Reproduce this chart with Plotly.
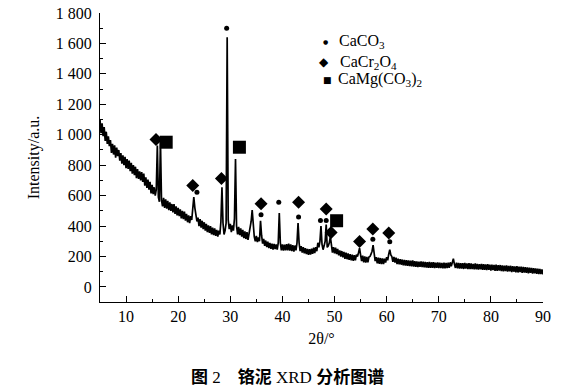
import plotly.graph_objects as go

# ---------------- data ----------------
intensity = [
    1100, 1010, 1075, 990, 1050, 960, 1020, 940, 990, 925,     # 5.0
    965, 880, 940, 870, 930, 850, 915, 860, 900, 830,          # 7.0
    880, 810, 865, 800, 855, 780, 840, 775, 830, 760,          # 9.0
    815, 745, 800, 735, 790, 715, 775, 710, 760, 700,          # 11.0
    755, 690, 745, 665, 720, 650, 705, 640, 690, 615,          # 13.0
    670, 610, 655, 600, 640, 930, 590, 560, 960, 570,          # 15.0
    530, 585, 520, 575, 515, 565, 505, 555, 500, 545,          # 17.0
    490, 545, 480, 530, 470, 520, 465, 510, 450, 500,          # 19.0
    445, 495, 435, 480, 425, 470, 420, 465, 440, 500,          # 21.0
    590, 520, 470, 430, 455, 400, 445, 390, 435, 380,          # 23.0
    425, 370, 415, 360, 405, 355, 400, 345, 390, 340,          # 25.0
    385, 335, 375, 330, 370, 345, 430, 655, 420, 345,          # 27.0
    370, 420, 1640, 440, 380, 415, 360, 405, 370, 450,         # 29.0
    840, 400, 345, 395, 340, 385, 330, 375, 320, 365,          # 31.0
    315, 360, 310, 355, 380, 430, 505, 400, 330, 300,          # 33.0
    335, 295, 325, 300, 435, 340, 285, 315, 270, 305,          # 35.0
    262, 298, 255, 290, 250, 285, 245, 282, 248, 280,          # 37.0
    245, 290, 485, 290, 240, 280, 238, 278, 240, 282,          # 39.0
    240, 285, 238, 280, 235, 275, 232, 272, 240, 290,          # 41.0
    420, 290, 235, 268, 225, 262, 220, 255, 215, 250,          # 43.0
    210, 248, 212, 252, 218, 258, 222, 262, 235, 290,          # 45.0
    260, 300, 400, 280, 245, 270, 300, 410, 260, 270,          # 47.0
    290, 330, 255, 225, 262, 220, 258, 215, 250, 208,          # 49.0
    240, 200, 236, 195, 230, 185, 225, 182, 220, 178,          # 51.0
    215, 175, 212, 172, 208, 175, 212, 200, 225, 255,          # 53.0
    210, 170, 205, 162, 200, 160, 198, 162, 196, 200,          # 55.0
    215, 235, 275, 215, 170, 195, 155, 192, 152, 190,          # 57.0
    150, 188, 150, 186, 160, 195, 175, 215, 245, 210,          # 59.0
    200, 165, 198, 160, 192, 150, 185, 148, 182, 146,          # 61.0
    180, 142, 178, 140, 176, 138, 175, 137, 172, 135,          # 63.0
    174, 134, 170, 132, 168, 130, 166, 132, 168, 130,          # 65.0
    166, 128, 165, 127, 163, 126, 164, 125, 162, 126,          # 67.0
    163, 124, 160, 125, 162, 123, 160, 124, 158, 122,          # 69.0
    160, 122, 158, 123, 160, 125, 162, 135, 165, 185,          # 71.0
    150, 125, 160, 122, 158, 120, 157, 121, 156, 118,          # 73.0
    158, 120, 155, 118, 157, 117, 154, 118, 152, 116,          # 75.0
    155, 115, 152, 114, 150, 116, 152, 113, 150, 112,          # 77.0
    148, 110, 150, 112, 146, 108, 147, 110, 145, 106,          # 79.0
    146, 105, 143, 107, 144, 104, 142, 102, 140, 104,          # 81.0
    141, 100, 138, 102, 139, 98, 137, 100, 135, 96,            # 83.0
    136, 95, 133, 97, 134, 93, 131, 94, 130, 92,               # 85.0
    128, 90, 126, 92, 125, 88, 124, 89, 122, 86,               # 87.0
    120, 85, 118, 84, 115, 82,                                 # 89.0
]
two_theta = [round(5.0 + 0.2 * i, 1) for i in range(len(intensity))]

# phase markers (2theta, intensity at marker)
caco3_x = [29.3, 23.6, 35.9, 39.3, 43.1, 47.3, 48.4, 57.35, 60.6]
caco3_y = [1699, 622, 475, 556, 459, 437, 437, 314, 297]
cacr2o4_x = [15.75, 22.8, 28.3, 35.9, 43.1, 48.4, 49.35, 54.8, 57.35, 60.4]
cacr2o4_y = [969, 666, 712, 547, 556, 512, 358, 299, 380, 354]
camg_x = [17.7, 31.75, 50.4]
camg_y = [951, 918, 435]

y_ticks = [0, 200, 400, 600, 800, 1000, 1200, 1400, 1600, 1800]
y_ticktext = ["0", "200", "400", "600", "800", "1 000", "1 200", "1 400", "1 600", "1 800"]
x_ticks = [10, 20, 30, 40, 50, 60, 70, 80, 90]

legend_labels = ["CaCO<sub>3</sub>", "CaCr<sub>2</sub>O<sub>4</sub>", "CaMg(CO<sub>3</sub>)<sub>2</sub>"]
caption = "<b>图</b> 2　<b>铬泥</b> XRD <b>分析图谱</b>"

# ---------------- figure ----------------
SERIF = "Liberation Serif"
fig = go.Figure()
fig.add_trace(go.Scatter(x=two_theta, y=intensity, mode="lines",
                         line=dict(color="black", width=1.7), showlegend=False,
                         hoverinfo="skip"))
fig.add_trace(go.Scatter(x=caco3_x, y=caco3_y, mode="markers",
                         marker=dict(symbol="circle", size=5, color="black"), showlegend=False))
fig.add_trace(go.Scatter(x=cacr2o4_x, y=cacr2o4_y, mode="markers",
                         marker=dict(symbol="diamond", size=10, color="black"), showlegend=False))
fig.add_trace(go.Scatter(x=camg_x, y=camg_y, mode="markers",
                         marker=dict(symbol="square", size=13, color="black"), showlegend=False))

# legend drawn as annotations
leg_sym = ["●", "◆", "■"]
leg_sym_size = [6, 12, 9]
leg_sym_x = [0.5087, 0.5065, 0.5132]
leg_txt_x = [0.5358, 0.538, 0.5335]
leg_y = [0.8997, 0.8304, 0.7682]
for s, ss, sx, tx, yy, lab in zip(leg_sym, leg_sym_size, leg_sym_x, leg_txt_x, leg_y, legend_labels):
    fig.add_annotation(x=sx, y=yy, xref="paper", yref="paper", text=s, showarrow=False,
                       font=dict(family="DejaVu Sans", size=ss, color="black"),
                       xanchor="center", yanchor="middle")
    fig.add_annotation(x=tx, y=yy, xref="paper", yref="paper", text=lab, showarrow=False,
                       font=dict(family=SERIF, size=16, color="black"),
                       xanchor="left", yanchor="middle")

fig.add_annotation(x=0.423, y=-0.2595, xref="paper", yref="paper", text=caption,
                   showarrow=False, xanchor="center", yanchor="middle",
                   font=dict(family="Liberation Serif, Noto Sans CJK SC", size=17, color="black"))

fig.update_layout(
    width=583, height=391,
    margin=dict(l=100, r=40, t=13, b=89, autoexpand=False),
    paper_bgcolor="white", plot_bgcolor="white",
    font=dict(family=SERIF, size=16, color="black"),
    showlegend=False,
)
fig.update_xaxes(range=[5, 90], tickvals=x_ticks, ticks="inside", ticklen=6, tickcolor="black",
                 showline=True, linecolor="black", linewidth=1, showgrid=False, zeroline=False,
                 automargin=False,
                 minor=dict(ticks="inside", ticklen=3, dtick=5, tick0=5, tickcolor="black"),
                 title=dict(text="2θ/°", standoff=8, font=dict(family=SERIF, size=16)),
                 tickfont=dict(family=SERIF, size=16))
fig.update_yaxes(range=[-99, 1800], tickvals=y_ticks, ticktext=y_ticktext, ticks="inside",
                 ticklen=6, tickcolor="black", showline=True, linecolor="black", linewidth=1,
                 showgrid=False, zeroline=False, ticklabelstandoff=4, automargin=False,
                 minor=dict(ticks="inside", ticklen=3, dtick=100, tick0=0, tickcolor="black"),
                 title=dict(text="Intensity/a.u.", standoff=12, font=dict(family=SERIF, size=16)),
                 tickfont=dict(family=SERIF, size=16))

fig.write_html("out.html", config={"displayModeBar": False},
               post_script="document.body.style.margin='0px';document.body.style.padding='0px';")
